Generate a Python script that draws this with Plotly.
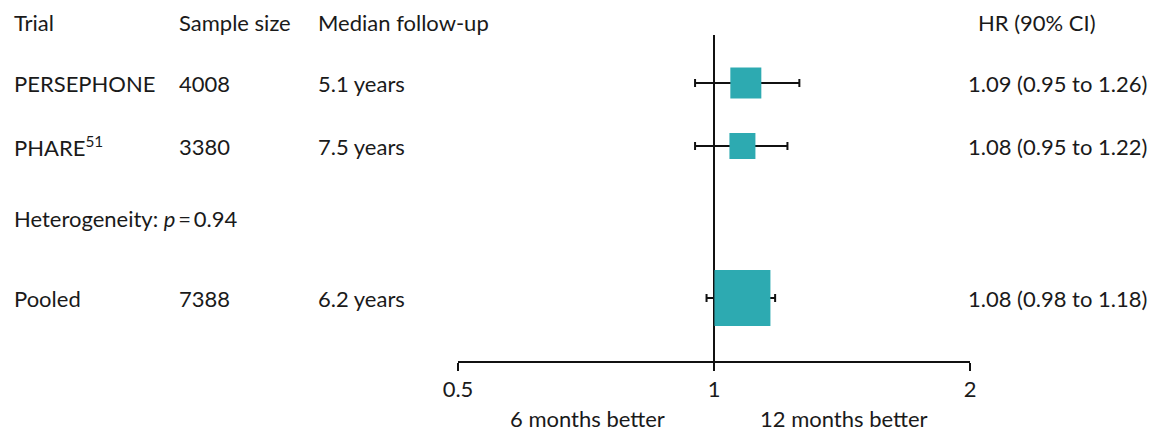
import plotly.graph_objects as go

# ---- data ----
trials = ["PERSEPHONE", "PHARE<sup>51</sup>", "Pooled"]
sample_size = ["4008", "3380", "7388"]
median_fu = ["5.1 years", "7.5 years", "6.2 years"]
hr = [1.09, 1.08, 1.08]
ci_low = [0.95, 0.95, 0.98]
ci_high = [1.26, 1.22, 1.18]
hr_labels = ["1.09 (0.95 to 1.26)", "1.08 (0.95 to 1.22)", "1.08 (0.98 to 1.18)"]
headers = ["Trial", "Sample size", "Median follow-up", "HR (90% CI)"]
heterogeneity = "Heterogeneity: <i>p</i>\u2009=\u20090.94"
tick_vals = [0.5, 1, 2]
tick_text = ["0.5", "1", "2"]
direction_labels = ["6 months better", "12 months better"]

# ---- layout (pixel-based positions) ----
W, H = 1161, 434
row_y = [83, 146, 298]
header_y = 22
het_y = 218
axis_y = 362
marker_px = [31, 26, 56]
col_x = [13, 178, 317]
hr_header_x = 977
hr_val_right = 1148
FONT = "Lato"
FS = 22
TXT = "#1a1a1a"
TEAL = "#2DAAB1"

fig = go.Figure()

fig.add_trace(go.Scatter(
    x=hr, y=row_y, mode="markers",
    marker=dict(symbol="square", size=marker_px, color=TEAL, opacity=1, line=dict(width=0)),
    error_x=dict(type="data", symmetric=False,
                 array=[h - e for e, h in zip(hr, ci_high)],
                 arrayminus=[e - l for e, l in zip(hr, ci_low)],
                 color="#111111", thickness=2, width=4),
    hoverinfo="skip", showlegend=False,
))

# reference line at HR = 1
fig.add_shape(type="line", xref="x", yref="y", x0=1, x1=1, y0=35, y1=axis_y,
              line=dict(color="#111111", width=2), layer="below")

ann = []
def txt(x, y, s, anchor="left"):
    ann.append(dict(x=x / W, y=y, xref="paper", yref="y", text=s, showarrow=False,
                    xanchor=anchor, yanchor="middle", borderpad=0,
                    font=dict(family=FONT, size=FS, color=TXT)))

for cx, h in zip(col_x, headers[:3]):
    txt(cx, header_y, h)
txt(hr_header_x, header_y, headers[3])
for i in range(len(trials)):
    txt(col_x[0], row_y[i], trials[i])
    txt(col_x[1], row_y[i], sample_size[i])
    txt(col_x[2], row_y[i], median_fu[i])
    txt(hr_val_right, row_y[i], hr_labels[i], anchor="right")
txt(col_x[0], het_y, heterogeneity)
txt(587, 418, direction_labels[0], anchor="center")
txt(844, 418, direction_labels[1], anchor="center")

fig.update_layout(
    template="none",
    width=W, height=H, autosize=False, margin=dict(l=0, r=0, t=0, b=0, pad=0),
    paper_bgcolor="white", plot_bgcolor="white",
    font=dict(family=FONT, size=FS, color=TXT),
    annotations=ann,
    xaxis=dict(type="log", range=[-0.30103, 0.30103], domain=[458 / W, 970 / W],
               anchor="free", position=(H - axis_y) / H, automargin=False,
               showline=True, linecolor="#111111", linewidth=2,
               ticks="outside", ticklen=8, tickwidth=2, tickcolor="#111111",
               tickvals=tick_vals, ticktext=tick_text, showgrid=False, zeroline=False,
               tickfont=dict(family=FONT, size=FS, color=TXT)),
    yaxis=dict(range=[H, 0], domain=[0, 1], visible=False, automargin=False,
               showgrid=False, zeroline=False),
)

fig.write_html("out.html", config={"responsive": False, "displayModeBar": False},
               post_script="document.body.style.margin='0';document.body.style.overflow='hidden';")
